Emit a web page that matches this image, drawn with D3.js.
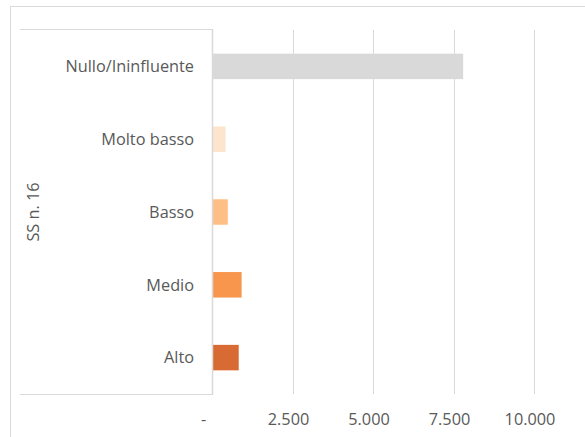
<!DOCTYPE html>
<html><head><meta charset="utf-8">
<script src="https://cdn.jsdelivr.net/npm/d3@7"></script>
<style>body{margin:0;background:#fff}svg{display:block}text{font-family:"Open Sans",Lato,sans-serif;fill:#595959}</style>
</head><body><svg id="c" width="585" height="437"></svg>
<script>
const categories = ["Nullo/Ininfluente","Molto basso","Basso","Medio","Alto"];
const values = [7800, 420, 490, 920, 830];
const colors = ["#d9d9d9","#fce4cd","#fdbf86","#f8964d","#d86b33"];
const ticks = [0, 2500, 5000, 7500, 10000];
const groupLabel = "SS n. 16";

const svg = d3.select("#c");
const m = {left:212, right:534, top:30, bottom:394};
const x = d3.scaleLinear().domain([0,10000]).range([m.left, m.right]);
const y = d3.scaleBand().domain(categories).range([m.top, m.bottom]).paddingInner(0.65).paddingOuter(0.325);

// outer chart border
svg.append("rect").attr("x",10.5).attr("y",6.5).attr("width",600).attr("height",450)
  .attr("fill","none").attr("stroke","#d9d9d9");

// gridlines
svg.append("g").selectAll("line").data(ticks.slice(1)).join("line")
  .attr("x1",d=>Math.round(x(d))+0.5).attr("x2",d=>Math.round(x(d))+0.5)
  .attr("y1",m.top).attr("y2",m.bottom).attr("stroke","#d9d9d9");

// category box lines
svg.append("line").attr("x1",20).attr("x2",m.left).attr("y1",m.top-0.5).attr("y2",m.top-0.5).attr("stroke","#d9d9d9");
svg.append("line").attr("x1",20).attr("x2",m.left).attr("y1",m.bottom+0.5).attr("y2",m.bottom+0.5).attr("stroke","#d9d9d9");

// bars
svg.append("g").selectAll("rect").data(categories).join("rect")
  .attr("x",x(0)).attr("y",d=>y(d))
  .attr("width",(d,i)=>x(values[i])-x(0)).attr("height",y.bandwidth())
  .attr("fill",(d,i)=>colors[i]);

// axis line
svg.append("line").attr("x1",m.left+0.5).attr("x2",m.left+0.5).attr("y1",m.top-1).attr("y2",m.bottom+1).attr("stroke","#d9d9d9").attr("stroke-width",1.5);

// category labels
svg.append("g").selectAll("text").data(categories).join("text")
  .attr("x",m.left-18).attr("y",d=>y(d)+y.bandwidth()/2).attr("dy","0.35em")
  .attr("text-anchor","end").attr("font-size",16.3).text(d=>d);

// group label
svg.append("text").attr("transform",`translate(39,${(m.top+m.bottom)/2}) rotate(-90)`)
  .attr("text-anchor","middle").attr("font-size",16.3).text(groupLabel);

// x tick labels
const fmt = d => d===0 ? "-" : d3.format(",")(d).replace(/,/g,".");
svg.append("g").selectAll("text").data(ticks).join("text")
  .attr("x",d=>x(d)+(d===0?-8.5:-4)).attr("y",419).attr("dy","0.35em")
  .attr("text-anchor","middle").attr("font-size",16.3).text(fmt);
</script></body></html>
